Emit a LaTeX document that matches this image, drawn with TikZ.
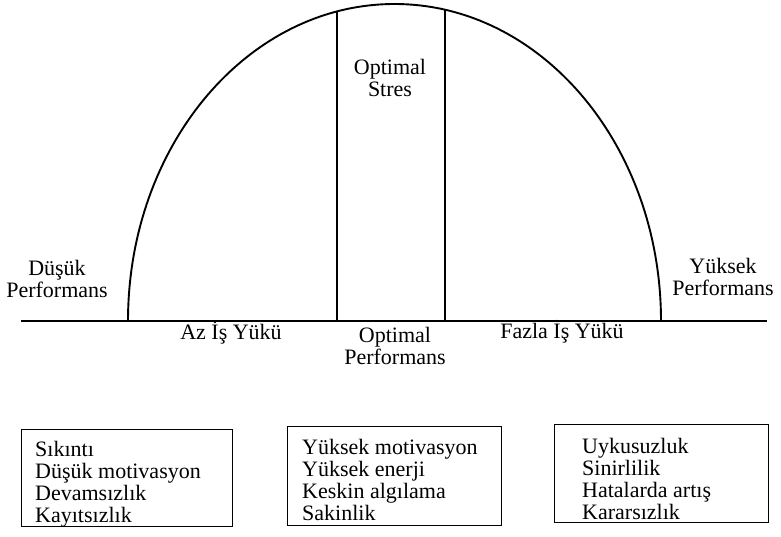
\documentclass[tikz,border=0pt]{standalone}
\usepackage{fontspec}
\setmainfont{Liberation Serif}
\begin{document}
\begin{tikzpicture}[x=1pt,y=-1pt,
  lbl/.style={font=\fontsize{22}{22}\selectfont, align=center, inner sep=0pt},
  lst/.style={font=\fontsize{22}{22}\selectfont, align=left, inner sep=0pt, anchor=north west},
  boxr/.style={draw, line width=1.4pt, anchor=north west, inner sep=0pt},
  thick line/.style={line width=1.9pt}
  ]
\useasboundingbox (0,0) rectangle (781,536);
% arch and axis
\draw[thick line] (128,321) arc[start angle=180, end angle=360, x radius=266.5, y radius=317];
\draw[thick line] (21,321) -- (767,321);
\draw[line width=1.7pt] (337,11.5) -- (337,321);
\draw[line width=1.7pt] (445,9.7) -- (445,321);
% labels
\node[lbl] (optstres) at (390,77.5) {Optimal\\Stres};
\node[lbl] (lowperf) at (57,279) {Düşük\\Performans};
\node[lbl] (highperf) at (723,276.5) {Yüksek\\Performans};
\node[lbl, anchor=base] (az) at (231,339) {Az İş Yükü};
\node[lbl] (optperf) at (395,346) {Optimal\\Performans};
\node[lbl, anchor=base] (fazla) at (562,338) {Fazla İş Yükü};
% boxes
\node[boxr, minimum width=211pt, minimum height=97pt] (b1) at (21,429) {};
\node[boxr, minimum width=214pt, minimum height=99pt] (b2) at (287,426) {};
\node[boxr, minimum width=214pt, minimum height=98pt] (b3) at (554,424) {};
\node[lst] (t1) at (35,441) {Sıkıntı\\Düşük motivasyon\\Devamsızlık\\Kayıtsızlık};
\node[lst] (t2) at (302,439.5) {Yüksek motivasyon\\Yüksek enerji\\Keskin algılama\\Sakinlik};
\node[lst] (t3) at (582,438) {Uykusuzluk\\Sinirlilik\\Hatalarda artış\\Kararsızlık};
\end{tikzpicture}
\end{document}
